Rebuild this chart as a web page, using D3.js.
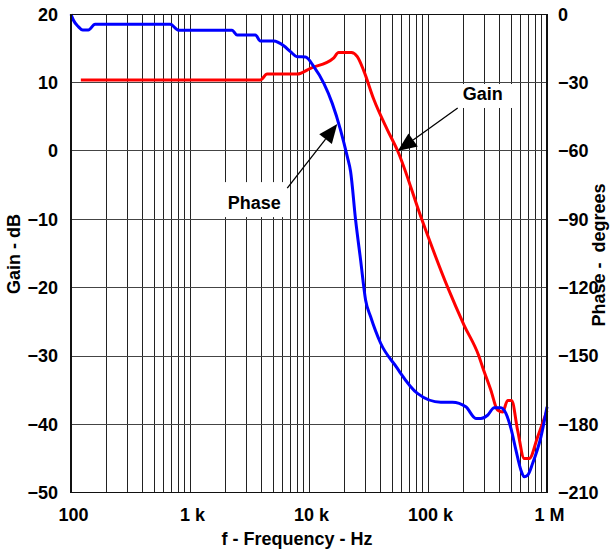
<!DOCTYPE html>
<html>
<head>
<meta charset="utf-8">
<script src="https://cdn.jsdelivr.net/npm/d3@7"></script>
<style>
  html, body { margin: 0; padding: 0; background: #fff; }
  svg { display: block; font-family: "Liberation Sans", Arial, sans-serif; font-weight: bold; }
</style>
</head>
<body>
<svg id="chart" width="610" height="550"></svg>
<script>
// Open-loop gain (dB, left axis) and phase (degrees, right axis) vs frequency
const gainFreq = [121, 3905, 4446, 7954, 10295, 16080, 17720, 22670, 25460, 28770, 34940, 45560, 55630, 88610, 146700, 201200, 267600, 287300, 337600, 384400, 423600, 466900, 504400, 566800, 643900, 709400, 835000, 1000000];
const gainDb   = [10.4, 10.4, 11.25, 11.25, 12.1, 13.6, 14.4, 14.4, 13.8, 11.8, 7.6, 3.1, 0, -10, -20, -25.5, -30, -31.6, -35, -37.9, -38.2, -36.5, -36.5, -40.9, -45, -45, -41.8, -38];

const phaseFreq = [100, 104.6, 115.2, 125.5, 139.9, 159.3, 681.9, 800.8, 2256, 2486, 3544, 3905, 5052, 6134, 6987, 7954, 9344, 10975, 13326, 15680, 18420, 20980, 22360, 24640, 27150, 29910, 32960, 40000, 55290, 58950, 81520, 128100, 160600, 207900, 252500, 278100, 316700, 359800, 409900, 451600, 497600, 548200, 604000, 643900, 687900, 757800, 890300, 1000000];
const phaseDeg  = [0, -2.5, -5.4, -6.9, -6.9, -4.4, -4.4, -7.0, -7.0, -9.1, -9.1, -11.7, -11.7, -13.8, -16.4, -18.6, -18.7, -23, -30.3, -39.1, -50.8, -62.5, -69, -90.3, -107.9, -125.5, -132.8, -144.4, -155.4, -157.6, -166.4, -170.3, -170.3, -172.3, -177.4, -177.4, -176, -172.7, -172.7, -175.2, -181.8, -191.3, -200.1, -203, -202.3, -197.1, -185.4, -172.3];

const freqTicks = [1e2, 1e3, 1e4, 1e5, 1e6];
const freqTickLabels = ["100", "1 k", "10 k", "100 k", "1 M"];
const gainTicks = [20, 10, 0, -10, -20, -30, -40, -50];
const phaseTicks = [0, -30, -60, -90, -120, -150, -180, -210];

// Callouts: arrow tip sits on the curve value; tail, label and box offsets in pixels
const callouts = [
  { text: "Gain",  axis: "gain",  f: 55630, v: 0,     tail: [60, -43], label: [85, -51], box: [66, 24, -16] },
  { text: "Phase", axis: "phase", f: 17280, v: -48.2, tail: [-50, 64], label: [-83, 85], box: [66, 35, -27] }
];

const svg = d3.select("#chart");
const plotLeft = 71, plotRight = 547, plotTop = 14.3, plotBottom = 492.7;

const x = d3.scaleLog().domain([1e2, 1e6]).range([plotLeft, plotRight]);
const yGain = d3.scaleLinear().domain([-50, 20]).range([plotBottom, plotTop]);
const yPhase = d3.scaleLinear().domain([-210, 0]).range([plotBottom, plotTop]);

// Grid: every 1..9 per decade, horizontal every 10 dB
const minor = [];
for (let d = 1e2; d < 1e6; d *= 10) for (let k = 1; k < 10; k++) minor.push(k * d);
minor.push(1e6);

const grid = svg.append("g").attr("stroke-width", 1).attr("shape-rendering", "crispEdges");
grid.selectAll("line.v").data(minor).join("line").attr("class", "v")
  .attr("x1", d => x(d)).attr("x2", d => x(d)).attr("y1", plotTop).attr("y2", plotBottom)
  .attr("stroke", "#222");
grid.selectAll("line.h").data(gainTicks).join("line").attr("class", "h")
  .attr("x1", plotLeft).attr("x2", plotRight).attr("y1", d => yGain(d)).attr("y2", d => yGain(d))
  .attr("stroke", "#444");

// Callout label backgrounds
const yFor = c => c.axis === "gain" ? yGain(c.v) : yPhase(c.v);
svg.append("g").selectAll("rect").data(callouts).join("rect")
  .attr("x", c => x(c.f) + c.label[0] - c.box[0] / 2)
  .attr("y", c => yFor(c) + c.label[1] + c.box[2])
  .attr("width", c => c.box[0])
  .attr("height", c => c.box[1])
  .attr("fill", "#fff");

// Curves
const gainLine = d3.line().x(d => x(d[0])).y(d => yGain(d[1])).curve(d3.curveMonotoneX);
const phaseLine = d3.line().x(d => x(d[0])).y(d => yPhase(d[1])).curve(d3.curveMonotoneX);

svg.append("path").datum(d3.zip(gainFreq, gainDb))
  .attr("d", gainLine).attr("fill", "none").attr("stroke", "#ff0000")
  .attr("stroke-width", 3).attr("stroke-linejoin", "round");
svg.append("path").datum(d3.zip(phaseFreq, phaseDeg))
  .attr("d", phaseLine).attr("fill", "none").attr("stroke", "#0000ff")
  .attr("stroke-width", 3).attr("stroke-linejoin", "round");

// Arrows and labels
const notes = svg.append("g");
callouts.forEach(c => {
  const tx = x(c.f), ty = yFor(c);
  const sx = tx + c.tail[0], sy = ty + c.tail[1];
  const len = Math.hypot(tx - sx, ty - sy);
  const ux = (tx - sx) / len, uy = (ty - sy) / len;
  const headL = 19, headW = 8;
  const bx = tx - ux * headL, by = ty - uy * headL;
  notes.append("line").attr("x1", sx).attr("y1", sy).attr("x2", bx).attr("y2", by)
    .attr("stroke", "#000").attr("stroke-width", 1.3);
  notes.append("polygon")
    .attr("points", [[tx, ty], [bx - uy * headW, by + ux * headW], [bx + uy * headW, by - ux * headW]].map(p => p.join(",")).join(" "))
    .attr("fill", "#000");
  notes.append("text").attr("x", tx + c.label[0]).attr("y", ty + c.label[1])
    .attr("text-anchor", "middle").attr("font-size", 18).attr("fill", "#000").text(c.text);
});

// Frame
svg.append("rect").attr("x", plotLeft).attr("y", plotTop).attr("width", plotRight - plotLeft).attr("height", plotBottom - plotTop)
  .attr("fill", "none").attr("stroke", "#111").attr("stroke-width", 1.2).attr("shape-rendering", "crispEdges");

// Axes (labels only)
function styleAxis(g) {
  g.select(".domain").remove();
  g.selectAll("text").attr("font-size", 18).attr("font-weight", "bold")
    .attr("font-family", "'Liberation Sans', Arial, sans-serif").attr("fill", "#000");
}
svg.append("g").attr("transform", `translate(${plotLeft},0)`)
  .call(d3.axisLeft(yGain).tickValues(gainTicks).tickSize(0).tickPadding(13).tickFormat(d3.format("d")))
  .call(styleAxis);
svg.append("g").attr("transform", `translate(${plotRight},0)`)
  .call(d3.axisRight(yPhase).tickValues(phaseTicks).tickSize(0).tickPadding(11).tickFormat(d3.format("d")))
  .call(styleAxis);
svg.append("g").attr("transform", `translate(0,${plotBottom})`)
  .call(d3.axisBottom(x).tickValues(freqTicks).tickSize(0).tickPadding(16)
    .tickFormat((d, i) => freqTickLabels[i]))
  .call(styleAxis)
  .selectAll("text").attr("dx", 2);

// Axis titles
svg.append("text").attr("x", 297).attr("y", 545).attr("text-anchor", "middle")
  .attr("font-size", 18).text("f - Frequency - Hz");
svg.append("text").attr("transform", "translate(19.5,254) rotate(-90)").attr("text-anchor", "middle")
  .attr("font-size", 18).text("Gain - dB");
svg.append("text").attr("transform", "translate(605,255) rotate(-90)").attr("text-anchor", "middle")
  .attr("font-size", 18).style("white-space", "pre").text("Phase -  degrees");
</script>
</body>
</html>
